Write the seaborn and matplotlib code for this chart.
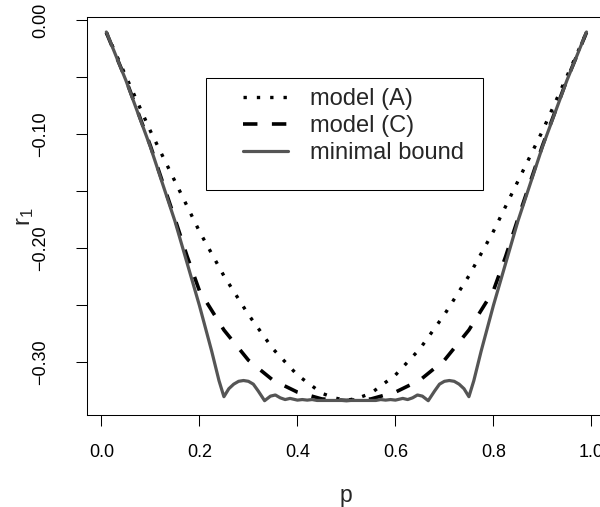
import numpy as np
import pandas as pd
import matplotlib
matplotlib.use("Agg")
import matplotlib.pyplot as plt
import matplotlib.patches as mpatches
import seaborn as sns

# ---- data ----
p_A = [0.01, 0.05, 0.10, 0.15, 0.20, 0.25, 0.30, 0.35, 0.40, 0.45, 0.475, 0.50,
       0.525, 0.55, 0.60, 0.65, 0.70, 0.75, 0.80, 0.85, 0.90, 0.95, 0.99]
r_A = [-0.0105, -0.049, -0.097, -0.141, -0.185, -0.224, -0.258, -0.288, -0.311, -0.327, -0.331, -0.3333,
       -0.331, -0.327, -0.311, -0.288, -0.258, -0.224, -0.185, -0.141, -0.097, -0.049, -0.0105]

p_C = [0.01, 0.05, 0.10, 0.15, 0.175, 0.20, 0.25, 0.30, 0.35, 0.40, 0.45, 0.50,
       0.55, 0.60, 0.65, 0.70, 0.75, 0.80, 0.825, 0.85, 0.90, 0.95, 0.99]
r_C = [-0.0105, -0.052, -0.110, -0.174, -0.207, -0.237, -0.2715, -0.298, -0.3155, -0.326, -0.332, -0.3333,
       -0.332, -0.326, -0.3155, -0.298, -0.2715, -0.237, -0.207, -0.174, -0.110, -0.052, -0.0105]

p_B = [0.01, 0.05, 0.10, 0.15, 0.20, 0.225, 0.24, 0.25, 0.26, 0.27, 0.28, 0.29, 0.30, 0.31, 0.32,
       0.333, 0.345, 0.355, 0.365, 0.375, 0.385, 0.395, 0.40, 0.41, 0.42, 0.43, 0.44, 0.46, 0.50,
       0.54, 0.56, 0.57, 0.58, 0.59, 0.60, 0.605, 0.615, 0.625, 0.635, 0.645, 0.655, 0.667,
       0.68, 0.69, 0.70, 0.71, 0.72, 0.73, 0.74, 0.75, 0.76, 0.775, 0.80, 0.85, 0.90, 0.95, 0.99]
r_B = [-0.0101, -0.0526, -0.111, -0.176, -0.250, -0.290, -0.316, -0.330, -0.323, -0.319, -0.3165, -0.3158,
       -0.3165, -0.319, -0.325, -0.3335, -0.3295, -0.3285, -0.331, -0.3325, -0.3315, -0.3325, -0.333,
       -0.3325, -0.333, -0.3325, -0.3333, -0.3333, -0.3333,
       -0.3333, -0.3333, -0.3325, -0.333, -0.3325, -0.333, -0.3325, -0.3315, -0.3325, -0.331, -0.3285,
       -0.3295, -0.3335, -0.325, -0.319, -0.3165, -0.3158, -0.3165, -0.319, -0.323, -0.330, -0.316,
       -0.290, -0.250, -0.176, -0.111, -0.0526, -0.0101]

legend_labels = ["model (A)", "model (C)", "minimal bound"]
x_ticks = [0.0, 0.2, 0.4, 0.6, 0.8, 1.0]
x_ticklabels = ["0.0", "0.2", "0.4", "0.6", "0.8", "1.0"]
y_ticks = [0.0, -0.05, -0.10, -0.15, -0.20, -0.25, -0.30]
y_ticklabels = ["0.00", "", "\u22120.10", "", "\u22120.20", "", "\u22120.30"]

# ---- style ----
sns.set_style("ticks")
plt.rcParams["font.family"] = ["Liberation Sans", "DejaVu Sans"]
plt.rcParams["mathtext.fontset"] = "custom"
plt.rcParams["mathtext.rm"] = "Liberation Sans"
plt.rcParams["mathtext.it"] = "Liberation Sans"
plt.rcParams["mathtext.default"] = "regular"

fig = plt.figure(figsize=(6.0, 5.07), dpi=100)
ax = fig.add_axes([0.1452, 0.1809, 0.8643, 0.785])

dfA = pd.DataFrame({"p": p_A, "r": r_A})
dfC = pd.DataFrame({"p": p_C, "r": r_C})
dfB = pd.DataFrame({"p": p_B, "r": r_B})

sns.lineplot(data=dfA, x="p", y="r", ax=ax, color="black", lw=2.4,
             linestyle=(0, (1, 3)), sort=False, estimator=None, label=legend_labels[0],
             dash_capstyle="butt")
sns.lineplot(data=dfC, x="p", y="r", ax=ax, color="black", lw=2.6,
             linestyle=(0, (4, 4)), sort=False, estimator=None, label=legend_labels[1],
             dash_capstyle="butt")
sns.lineplot(data=dfB, x="p", y="r", ax=ax, color="#555555", lw=2.3,
             sort=False, estimator=None, label=legend_labels[2])

ax.set_xlim(-0.0292, 1.0292)
ax.set_ylim(-0.3463, 0.0028)
ax.set_xticks(x_ticks)
ax.set_xticklabels(x_ticklabels)
ax.set_yticks(y_ticks)
ax.set_yticklabels(y_ticklabels, rotation=90, va="center")
ax.tick_params(axis="both", direction="out", length=8, width=0.75, color="black",
               labelsize=13, labelcolor="black")
ax.tick_params(axis="x", pad=12.5)
ax.tick_params(axis="y", pad=19)
for s in ax.spines.values():
    s.set_visible(True)
    s.set_color("black")
    s.set_linewidth(0.75)
ax.set_xlabel("")
ax.set_ylabel("")

fig.text(346 / 600, (507 - 502) / 507, "p", fontsize=16.5, ha="center", va="baseline")
fig.text(25 / 600, 1 - 217 / 507, "r$_1$", fontsize=17, ha="center", va="center", rotation=90)

# legend box
rect = mpatches.Rectangle((206 / 600, (507 - 190) / 507), 277 / 600, 112 / 507,
                          transform=fig.transFigure, facecolor="white", edgecolor="black",
                          lw=0.75, zorder=5)
fig.add_artist(rect)
leg = ax.legend(loc="upper left", bbox_to_anchor=(243 / 600, 1 - 88.5 / 507),
                bbox_transform=fig.transFigure, frameon=False, fontsize=17,
                handlelength=1.9, handletextpad=0.93, borderpad=0, labelspacing=0.2,
                borderaxespad=0)
leg.set_zorder(6)
fig.add_artist(leg)

fig.savefig("out.png", dpi=100)
